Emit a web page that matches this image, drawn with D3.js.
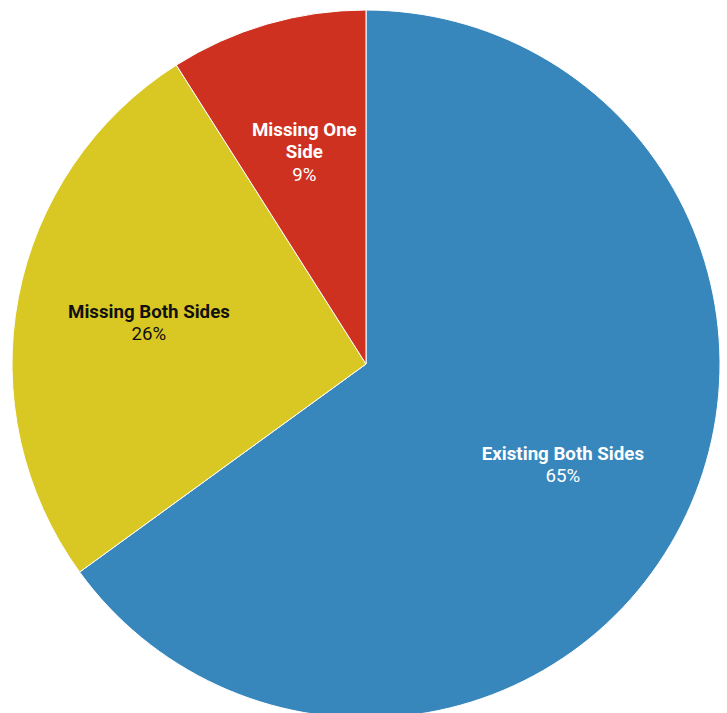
<!DOCTYPE html>
<html><head><meta charset="utf-8">
<script src="https://cdn.jsdelivr.net/npm/d3@7"></script>
<style>body{margin:0;background:#fff}svg{display:block}</style>
</head><body>
<svg id="c" width="727" height="713"></svg>
<script>
const categories = ["Existing Both Sides", "Missing Both Sides", "Missing One Side"];
const labelLines = [["Existing Both Sides"], ["Missing Both Sides"], ["Missing One", "Side"]];
const values = [65, 26, 9];
const colors = ["#3887bc", "#d9c823", "#cf3120"];
const textColors = ["#ffffff", "#111111", "#ffffff"];

const svg = d3.select("#c");
const cx = 366, cy = 364, R = 354;
const g = svg.append("g").attr("transform", `translate(${cx},${cy})`);
const data = categories.map((c, i) => ({c, v: values[i], i}));
const pie = d3.pie().value(d => d.v).sort(null);
const arcs = pie(data);
const arc = d3.arc().innerRadius(0).outerRadius(R);
const labelArc = d3.arc().innerRadius(221).outerRadius(221);

g.selectAll("path").data(arcs).join("path")
  .attr("d", arc)
  .attr("fill", d => colors[d.data.i])
  .attr("stroke", "#ffffff").attr("stroke-width", 1);

const lh = 22.5;
arcs.forEach(a => {
  const [x, y] = labelArc.centroid(a);
  const lines = labelLines[a.data.i];
  const n = lines.length + 1;
  const y0 = y - (n - 1) * lh / 2;
  const t = g.append("text")
    .attr("text-anchor", "middle")
    .attr("font-family", "Roboto, sans-serif")
    .attr("font-size", 18.7)
    .attr("fill", textColors[a.data.i]);
  lines.forEach((l, k) => {
    t.append("tspan").attr("x", x).attr("y", y0 + k * lh).attr("dy", "0.35em")
      .attr("font-weight", "bold").text(l);
  });
  t.append("tspan").attr("x", x).attr("y", y0 + lines.length * lh).attr("dy", "0.35em")
    .text(a.data.v + "%");
});
</script>
</body></html>
